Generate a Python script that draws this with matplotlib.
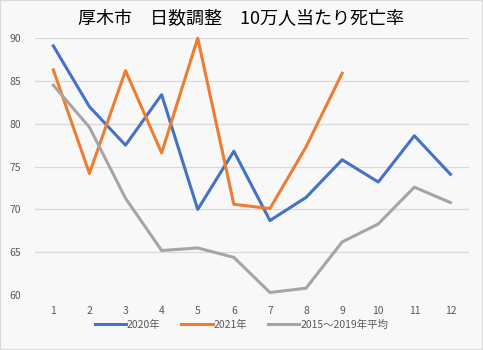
import matplotlib
matplotlib.use('Agg')
import matplotlib.pyplot as plt
from matplotlib.patches import Rectangle

plt.rcParams['font.family'] = ['Noto Sans CJK JP', 'DejaVu Sans']

months = list(range(1, 13))
y2020 = [89.1, 82.0, 77.5, 83.4, 70.0, 76.8, 68.7, 71.4, 75.8, 73.2, 78.6, 74.1]
y2021 = [86.3, 74.2, 86.2, 76.6, 90.0, 70.6, 70.1, 77.3, 85.9]
y_avg = [84.5, 79.6, 71.3, 65.2, 65.5, 64.4, 60.3, 60.8, 66.2, 68.3, 72.6, 70.8]

fig = plt.figure(figsize=(4.83, 3.5), dpi=100, facecolor='#f8f8f8')
ax = fig.add_axes([0.073, 0.157, 0.897, 0.734])
ax.set_facecolor('#f8f8f8')

ax.plot(months, y2020, color='#4472c4', lw=2.2, label='2020年', clip_on=False)
ax.plot(months[:len(y2021)], y2021, color='#ed7d31', lw=2.2, label='2021年', clip_on=False)
ax.plot(months, y_avg, color='#a5a5a5', lw=2.2, label='2015～2019年平均', clip_on=False)

ax.set_xlim(0.5, 12.5)
ax.set_ylim(60, 90)
ax.set_xticks(months)
ax.set_yticks(range(60, 91, 5))
ax.grid(axis='y', color='#d9d9d9', lw=0.9)
ax.set_axisbelow(True)
for s in ax.spines.values():
    s.set_visible(False)
ax.tick_params(length=0, labelsize=7.5, labelcolor='#595959')
ax.tick_params(axis='x', pad=8)
ax.tick_params(axis='y', pad=10)

fig.suptitle('厚木市　日数調整　10万人当たり死亡率', y=0.975, fontsize=13)

fig.legend(loc='lower center', bbox_to_anchor=(0.5, 0.03), ncol=3, frameon=False,
           fontsize=7.5, labelcolor='#595959', handlelength=3.0, handletextpad=0.1,
           columnspacing=2.0)

fig.patches.append(Rectangle((0, 0), 1, 1, transform=fig.transFigure, fill=False,
                             edgecolor='#d9d9d9', lw=1.5))

fig.savefig('out.png', dpi=100, facecolor=fig.get_facecolor())
